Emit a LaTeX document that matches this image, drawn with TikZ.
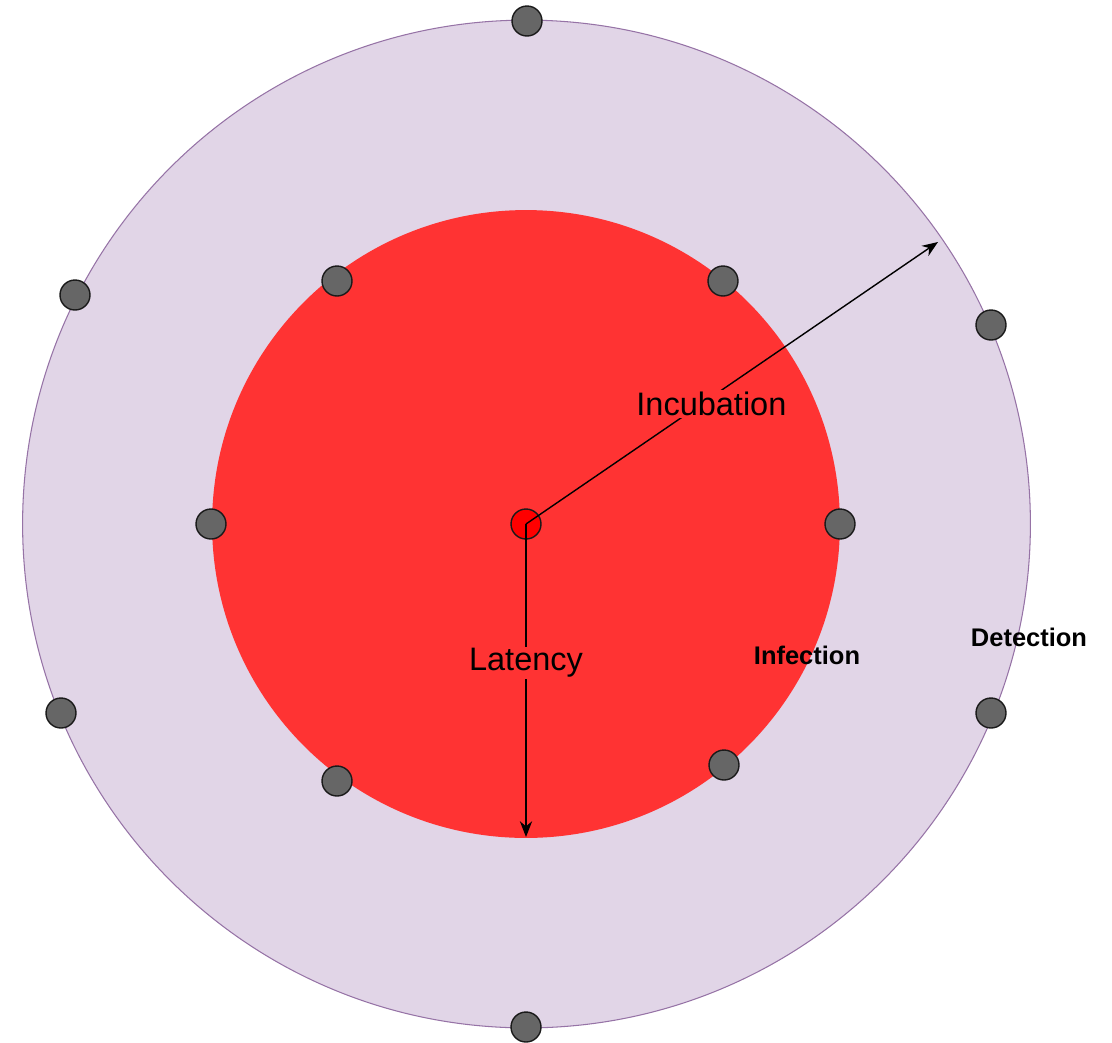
\documentclass[tikz,border=0pt]{standalone}
\usepackage{fontspec}
\setmainfont{Liberation Sans}
\definecolor{dililac}{HTML}{E1D5E7}
\definecolor{dipurple}{HTML}{9673A6}
\definecolor{dired}{HTML}{FF3333}
\definecolor{digray}{HTML}{666666}
\definecolor{diedge}{HTML}{1A1A1A}
\usetikzlibrary{arrows.meta,positioning}

\begin{document}
\begin{tikzpicture}[x=0.02cm,y=-0.02cm,
  zone/.style={circle,inner sep=0pt},
  host/.style={circle,draw=diedge,line width=0.8pt,fill=digray,minimum size=0.6cm,inner sep=0pt},
  spread/.style={-{Stealth[length=9pt,width=7pt]},line width=0.8pt},
  lbl/.style={fill=dired,inner sep=1pt,font=\fontsize{18.5}{22}\selectfont},
  ring/.style={font=\fontsize{14.5}{17}\selectfont\bfseries}]
  \useasboundingbox (0,0) rectangle (1112,1042);
  % rings
  \node[zone,draw=dipurple,line width=0.6pt,fill=dililac,minimum size=20.16cm] (detect) at (526.5,524) {};
  \node[zone,fill=dired,minimum size=12.56cm] (infect) at (526,524) {};
  % hosts on the outer ring
  \node[host] (o1) at (527,21) {};
  \node[host] (o2) at (75,295) {};
  \node[host] (o3) at (991,325) {};
  \node[host] (o4) at (61,713) {};
  \node[host] (o5) at (991,713) {};
  \node[host] (o6) at (526,1027) {};
  % hosts on the inner ring
  \node[host] (i1) at (337,281) {};
  \node[host] (i2) at (723,281) {};
  \node[host] (i3) at (211,524) {};
  \node[host] (i4) at (840,524) {};
  \node[host] (i5) at (337,781) {};
  \node[host] (i6) at (724,765) {};
  % source
  \node[host,fill=red] (src) at (526,524) {};
  \coordinate (incend) at (938,242);
  \coordinate (latend) at (526,837);
  \draw[spread] (src.center) -- node[lbl,pos=0.45,yshift=-0.14cm] {Incubation} (incend);
  \draw[spread] (src.center) -- node[lbl,pos=0.435,yshift=-0.06cm] {Latency} (latend);
  \node[ring] (infl) at (807,655) {Infection};
  \node[ring] (detl) at (1029,637) {Detection};
\end{tikzpicture}
\end{document}
